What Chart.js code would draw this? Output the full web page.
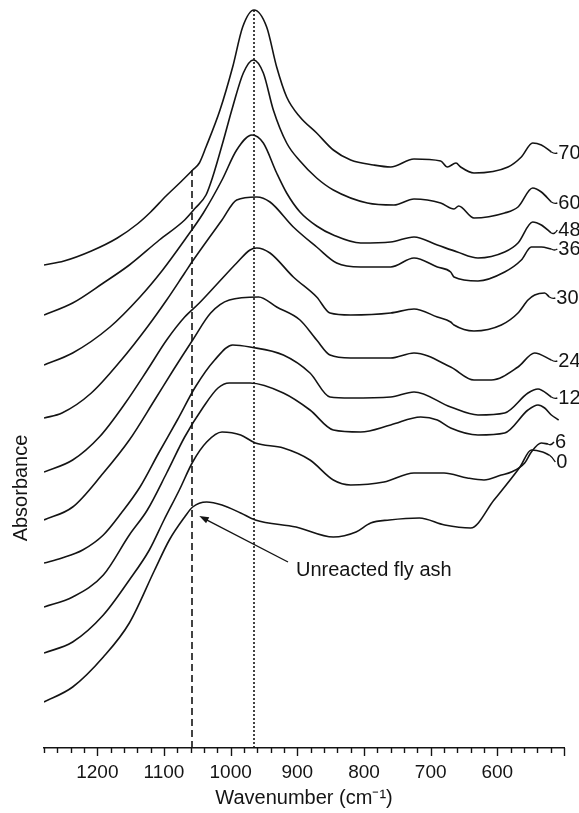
<!DOCTYPE html>
<html>
<head>
<meta charset="utf-8">
<script src="https://cdn.jsdelivr.net/npm/chart.js@4.4.1/dist/chart.umd.min.js"></script>
<style>
  html, body { margin: 0; padding: 0; background: #fff; }
  #wrap { width: 579px; height: 813px; }
</style>
</head>
<body>
<div id="wrap"><canvas id="ftir"></canvas></div>
<script>
// reaction time (h) for each trace, top to bottom. 8th trace carries no label in the figure
const times = ['70', '60', '48', '36', '30', '24', '12', '', '6', '0'];

// [wavenumber cm-1, stacked absorbance a.u.]
const s70 = [[1280,4.83],[1250,4.87],[1209,4.97],[1170,5.10],[1140,5.24],[1120,5.36],[1097,5.52],[1075,5.66],[1057,5.78],[1047,5.85],[1037,6.01],[1016,6.38],[997,6.81],[982,7.21],[965,7.38],[946,7.21],[931,6.81],[916,6.51],[896,6.31],[871,6.15],[846,5.98],[820,5.88],[786,5.83],[760,5.81],[725,5.89],[685,5.87],[675,5.81],[662,5.85],[655,5.81],[635,5.75],[584,5.81],[564,5.91],[547,6.05],[534,6.03],[519,5.96]];
const s60 = [[1280,4.33],[1237,4.45],[1191,4.65],[1152,4.83],[1107,5.08],[1069,5.28],[1053,5.40],[1037,5.53],[1027,5.71],[1012,6.05],[997,6.41],[981,6.75],[966,6.88],[951,6.75],[936,6.38],[916,6.05],[896,5.87],[871,5.70],[846,5.58],[795,5.45],[755,5.43],[725,5.49],[685,5.45],[665,5.39],[658,5.42],[635,5.30],[589,5.35],[569,5.41],[547,5.60],[534,5.56],[519,5.46]];
const s48 = [[1280,3.83],[1237,3.95],[1181,4.21],[1136,4.51],[1102,4.78],[1069,5.08],[1041,5.35],[1013,5.68],[991,5.98],[968,6.13],[951,6.05],[931,5.75],[916,5.55],[896,5.36],[871,5.22],[846,5.13],[805,5.05],[760,5.06],[725,5.11],[690,5.03],[660,4.96],[629,4.90],[589,4.96],[569,5.05],[547,5.26],[534,5.23],[519,5.15]];
const s36 = [[1280,3.30],[1253,3.35],[1209,3.55],[1164,3.88],[1125,4.21],[1096,4.48],[1069,4.75],[1056,4.88],[1013,5.28],[991,5.48],[961,5.51],[941,5.46],[906,5.21],[871,5.01],[841,4.85],[805,4.81],[760,4.81],[725,4.90],[690,4.81],[670,4.76],[665,4.71],[629,4.67],[589,4.76],[564,4.88],[549,5.01],[534,5.01],[519,4.99]];
const s30 = [[1280,2.76],[1237,2.88],[1197,3.11],[1158,3.45],[1125,3.78],[1096,4.08],[1069,4.31],[1047,4.45],[1019,4.65],[991,4.85],[971,4.98],[961,5.00],[941,4.95],[906,4.71],[871,4.51],[851,4.35],[820,4.33],[760,4.35],[725,4.39],[690,4.31],[670,4.26],[665,4.23],[635,4.17],[594,4.23],[569,4.35],[554,4.48],[544,4.53],[529,4.55],[522,4.51]];
const s24 = [[1280,2.28],[1237,2.41],[1191,2.75],[1152,3.08],[1114,3.48],[1086,3.78],[1057,4.08],[1030,4.35],[1002,4.48],[958,4.51],[931,4.41],[896,4.28],[871,4.08],[851,3.93],[820,3.90],[760,3.90],[725,3.95],[670,3.81],[635,3.68],[609,3.68],[569,3.81],[544,3.95],[519,3.88]];
const s12 = [[1280,1.85],[1253,1.90],[1222,1.98],[1191,2.13],[1164,2.35],[1136,2.61],[1108,2.95],[1080,3.28],[1053,3.61],[1024,3.88],[997,4.03],[971,4.01],[921,3.93],[881,3.75],[851,3.51],[820,3.50],[760,3.51],[725,3.56],[670,3.41],[629,3.33],[589,3.35],[554,3.55],[539,3.59],[519,3.51]];
const sX = [[1280,1.41],[1237,1.51],[1191,1.73],[1152,2.13],[1125,2.38],[1096,2.75],[1069,3.11],[1041,3.41],[1019,3.60],[1002,3.65],[971,3.65],[921,3.55],[881,3.38],[846,3.18],[805,3.16],[760,3.23],[715,3.31],[690,3.28],[670,3.20],[629,3.13],[589,3.15],[554,3.38],[539,3.43],[529,3.40],[519,3.33],[508,3.28]];
const s6 = [[1280,0.95],[1237,1.06],[1191,1.33],[1152,1.68],[1122,1.98],[1100,2.28],[1077,2.58],[1057,2.86],[1036,3.06],[1013,3.16],[985,3.13],[963,3.05],[921,3.00],[881,2.88],[846,2.68],[820,2.63],[770,2.66],[725,2.75],[680,2.75],[645,2.70],[620,2.68],[594,2.73],[579,2.76],[559,2.85],[549,2.96],[534,3.05],[524,3.04]];
const s0 = [[1280,0.46],[1237,0.61],[1191,0.91],[1152,1.25],[1114,1.78],[1092,2.08],[1069,2.31],[1057,2.41],[1036,2.46],[1013,2.43],[985,2.35],[963,2.28],[902,2.21],[846,2.11],[812,2.16],[790,2.25],[762,2.28],[717,2.30],[679,2.23],[640,2.20],[605,2.48],[566,2.81],[549,2.98],[532,2.96],[522,2.93]];
const spectra = [s70, s60, s48, s36, s30, s24, s12, sX, s6, s0];

const xTicks = [1200, 1100, 1000, 900, 800, 700, 600];
// marker lines: [wavenumber, top of line]
const flyAshBand = [1058, 5.78];
const gelBand = [965, 7.38];
// arrow: tail, tip, text anchor
const arrowFrom = [914, 1.86];
const arrowTo = [1047, 2.32];
const noteAt = [902, 1.78];
// small vertical nudges (px) so end labels do not collide
const labelNudge = [0, 0, -4, -1, 0, 0, 0, 0, -3, 6];

const FONT = '"Liberation Sans", Arial, Helvetica, sans-serif';
const INK = '#141414';
Chart.defaults.font.family = FONT;
Chart.defaults.color = INK;

const datasets = spectra.map(s => ({
    data: s.map(p => ({x: p[0], y: p[1]})),
    borderColor: INK,
    borderWidth: 1.6,
    pointRadius: 0,
    cubicInterpolationMode: 'monotone',
    fill: false
}));
datasets.push({
    data: [{x: flyAshBand[0], y: 0}, {x: flyAshBand[0], y: flyAshBand[1]}],
    borderColor: INK, borderWidth: 1.6, borderDash: [7, 4], pointRadius: 0
});
datasets.push({
    data: [{x: gelBand[0], y: 0}, {x: gelBand[0], y: gelBand[1]}],
    borderColor: INK, borderWidth: 1.6, borderDash: [2, 2], pointRadius: 0
});

const extras = {
    id: 'extras',
    afterDraw(chart) {
        const {ctx, chartArea, scales: {x, y}} = chart;
        ctx.save();
        ctx.strokeStyle = INK;
        ctx.fillStyle = INK;
        ctx.lineWidth = 1.4;

        // minor ticks every 20, major every 100
        for (let v = 500; v <= 1280; v += 20) {
            const px = Math.round(x.getPixelForValue(v)) + 0.5;
            const len = v % 100 === 0 ? 8 : 5;
            ctx.beginPath();
            ctx.moveTo(px, chartArea.bottom);
            ctx.lineTo(px, chartArea.bottom + len);
            ctx.stroke();
        }

        // time labels at the right end of each trace
        ctx.font = '20px ' + FONT;
        ctx.textBaseline = 'middle';
        ctx.textAlign = 'left';
        spectra.forEach((s, i) => {
            if (!times[i]) return;
            const last = s[s.length - 1];
            const px = x.getPixelForValue(last[0]);
            const py = y.getPixelForValue(last[1]);
            const ly = py + labelNudge[i];
            ctx.beginPath();
            ctx.moveTo(px, py);
            ctx.quadraticCurveTo(px + 3, py + 2, px + 6, ly + 1);
            ctx.stroke();
            ctx.fillText(times[i], px + 7, ly + 1);
        });

        // arrow to the unreacted fly ash spectrum
        const ax = x.getPixelForValue(arrowFrom[0]), ay = y.getPixelForValue(arrowFrom[1]);
        const bx = x.getPixelForValue(arrowTo[0]), by = y.getPixelForValue(arrowTo[1]);
        const ang = Math.atan2(by - ay, bx - ax);
        ctx.beginPath();
        ctx.moveTo(ax, ay);
        ctx.lineTo(bx - 6 * Math.cos(ang), by - 6 * Math.sin(ang));
        ctx.stroke();
        ctx.beginPath();
        ctx.moveTo(bx, by);
        ctx.lineTo(bx - 10 * Math.cos(ang - 0.35), by - 10 * Math.sin(ang - 0.35));
        ctx.lineTo(bx - 10 * Math.cos(ang + 0.35), by - 10 * Math.sin(ang + 0.35));
        ctx.closePath();
        ctx.fill();
        ctx.fillText('Unreacted fly ash', x.getPixelForValue(noteAt[0]), y.getPixelForValue(noteAt[1]));

        // y title sits low, not centred on the plot
        ctx.translate(chartArea.left - 23, y.getPixelForValue(2.6));
        ctx.rotate(-Math.PI / 2);
        ctx.textAlign = 'center';
        ctx.fillText('Absorbance', 0, 0);
        ctx.restore();
    }
};

new Chart(document.getElementById('ftir'), {
    type: 'line',
    data: {datasets: datasets},
    options: {
        responsive: true,
        maintainAspectRatio: false,
        animation: false,
        layout: {padding: {left: 44, right: 15, top: 3, bottom: 0}},
        plugins: {legend: {display: false}, tooltip: {enabled: false}},
        scales: {
            x: {
                type: 'linear',
                reverse: true,
                min: 500,
                max: 1280,
                grid: {display: false, drawTicks: false},
                border: {display: true, color: INK, width: 1.5},
                ticks: {
                    stepSize: 20,
                    autoSkip: false,
                    maxRotation: 0,
                    padding: 13,
                    font: {size: 19},
                    callback: v => xTicks.includes(v) ? String(v) : ''
                },
                title: {
                    display: true,
                    text: 'Wavenumber (cm\u207B\u00B9)',
                    font: {size: 20},
                    padding: {top: 0, bottom: 3}
                },
                afterFit: s => { s.height = 65; }
            },
            y: {
                type: 'linear',
                display: false,
                min: 0,
                max: 7.45
            }
        }
    },
    plugins: [extras]
});
</script>
</body>
</html>
